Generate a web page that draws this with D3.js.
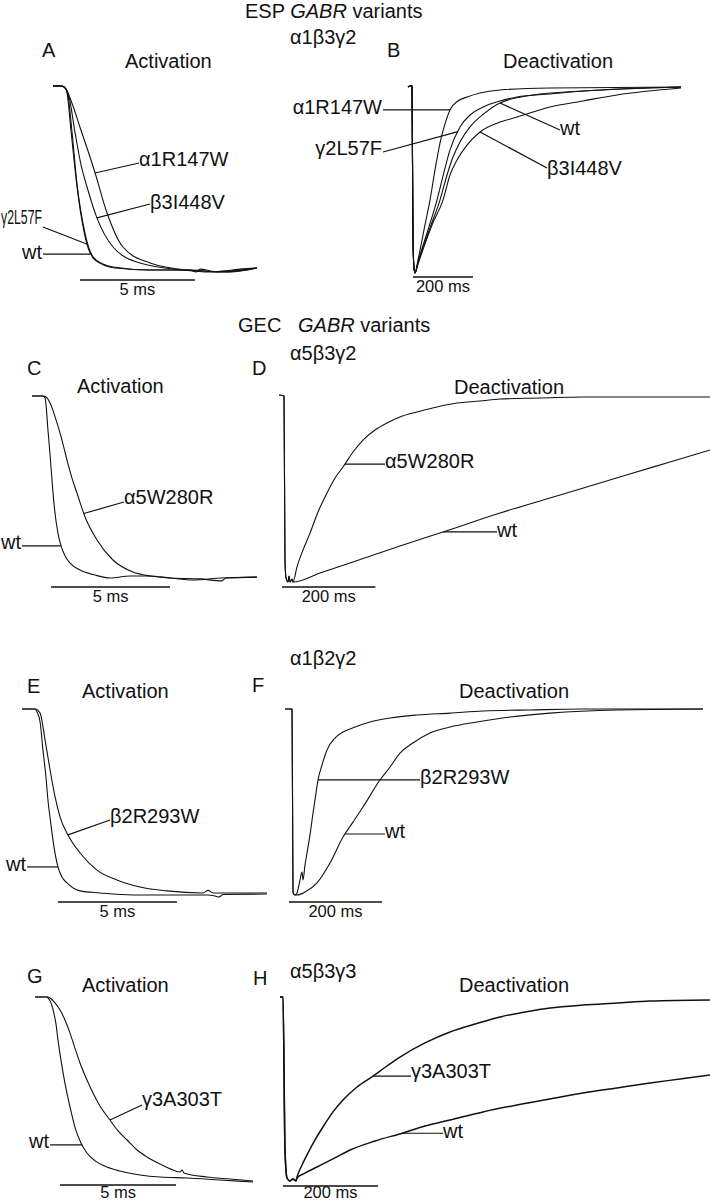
<!DOCTYPE html>
<html><head><meta charset="utf-8">
<script src="https://cdn.jsdelivr.net/npm/d3@7"></script>
<style>
body{margin:0;background:#fff}
svg{display:block}
text{font-family:"Liberation Sans",Arial,Helvetica,sans-serif;fill:#111}
</style>
</head><body>
<svg id="c" width="710" height="1203"></svg>
<script>
// ---------- DATA (time in ms, current normalised to peak: 0 = baseline, 1 = peak) ----------
// Panel A: alpha1beta3gamma2 activation
const A_names = ["wt", "γ2L57F", "β3I448V", "α1R147W"];
const A_wt = [[0,0],[0.39,0],[0.57,0.016],[0.65,0.049],[0.83,0.255],[1.04,0.527],[1.39,0.799],[1.74,0.929],[2.17,0.967],[2.61,0.984],[4.22,1.0],[5.96,1.0],[6.22,1.011],[6.39,0.995],[7.04,1.008],[7.61,1.003],[8.13,0.995],[8.87,0.989]];
const A_g2 = [[0,0],[0.35,0],[0.52,0.011],[0.61,0.038],[0.78,0.239],[1.04,0.543],[1.43,0.837],[1.83,0.946],[2.70,0.989],[4.22,1.0],[6.0,1.0],[7.3,1.011],[8.87,0.989]];
const A_b3 = [[0,0],[0.39,0],[0.57,0.016],[0.70,0.06],[0.96,0.255],[1.22,0.429],[1.48,0.549],[1.91,0.717],[2.61,0.875],[3.78,0.962],[5.65,1.0],[6.8,1.011],[8.87,0.989]];
const A_a1 = [[0,0],[0.30,0],[0.48,0.005],[0.61,0.027],[0.87,0.109],[1.17,0.223],[1.61,0.386],[1.83,0.473],[2.35,0.690],[3.04,0.875],[4.22,0.962],[5.83,1.0],[7.7,1.011],[8.87,0.989]];

// Panel B: alpha1beta3gamma2 deactivation
const B_names = ["α1R147W", "γ2L57F", "wt", "β3I448V"];
const B_pre = [[-13.3,0.005],[-6.7,0],[0,0],[3.3,0.824],[6.7,0.973],[10,1]];
const B_a1 = [[20,.930],[43.3,.743],[60,.610],[76.7,.449],[93.3,.305],[110,.203],[126.7,.128],[153.3,.080],[183.3,.059],[226.7,.037],[293.3,.021],[460,.011],[896.7,.005]];
const B_g2 = [[20,.941],[53.3,.770],[83.3,.610],[106.7,.460],[126.7,.342],[160,.219],[193.3,.155],[236.7,.112],[293.3,.080],[350,.059],[460,.043],[570,.027],[896.7,.005]];
const B_wt = [[20,.947],[60,.759],[93.3,.610],[116.7,.476],[136.7,.380],[160,.299],[193.3,.219],[243.3,.144],[293.3,.091],[403.3,.048],[570,.027],[896.7,.005]];
const B_b3 = [[20,.952],[66.7,.743],[103.3,.610],[126.7,.476],[150,.396],[183.3,.316],[226.7,.246],[293.3,.193],[350,.166],[460,.112],[570,.080],[683.3,.048],[896.7,.011]];

// Panel C: alpha5beta3gamma2 activation
const C_names = ["wt", "α5W280R"];
const C_wt = [[0,0],[0.46,0],[0.55,.011],[0.59,.049],[0.67,.187],[0.76,.324],[0.84,.462],[0.92,.588],[1.01,.687],[1.09,.753],[1.22,.824],[1.39,.879],[1.60,.918],[2.02,.956],[2.65,.984],[3.28,1.0],[4.12,.989],[4.96,.989],[5.80,1.0],[6.76,1.011],[7.90,1.0],[9.45,.995]];
const C_a5 = [[0,0],[0.46,0],[0.59,.005],[0.76,.038],[1.05,.148],[1.26,.242],[1.47,.352],[1.68,.451],[1.89,.533],[2.23,.665],[2.73,.791],[3.40,.901],[4.24,.967],[4.96,.989],[5.80,1.0],[7.06,1.005],[7.98,1.016],[8.15,1.0],[9.45,.995]];

// Panel D: alpha5beta3gamma2 deactivation
const D_names = ["α5W280R", "wt"];
const D_pre = [[-10.7,-.005],[0,0],[2.1,.882],[4.3,.978],[8.6,1],[10.7,.968],[12.8,1.0],[17.1,.984]];
const D_a5 = [[19.3,1],[27.8,.919],[40.7,.828],[55.7,.737],[72.8,.624],[92.1,.522],[109.2,.441],[126.3,.382],[147.8,.301],[169.2,.237],[194.9,.183],[220.6,.145],[248.4,.113],[284.8,.086],[327.6,.059],[370.4,.038],[419.7,.027],[462.5,.016],[548.2,.011],[640.3,.005],[783.7,.005],[912.2,.005]];
const D_wt = [[19.3,1],[77.1,.952],[141.3,.898],[248.4,.806],[340.5,.731],[462.5,.629],[569.6,.548],[676.7,.468],[747.3,.414],[826.6,.355],[912.2,.290]];

// Panel E: alpha1beta2gamma2 activation
const E_names = ["wt", "β2R293W"];
const E_wt = [[0,0],[0.55,0],[0.63,.016],[0.76,.070],[0.88,.220],[1.01,.371],[1.09,.489],[1.22,.624],[1.30,.704],[1.51,.849],[1.68,.903],[1.89,.935],[2.44,.978],[3.28,.989],[4.66,1.0],[7.77,1.0],[8.11,1.005],[8.28,1.011],[8.45,.997],[10.29,.995]];
const E_b2 = [[0,0],[0.55,0],[0.76,.022],[0.97,.167],[1.18,.328],[1.39,.473],[1.60,.581],[1.93,.677],[2.44,.774],[3.15,.866],[3.99,.919],[4.96,.957],[6.09,.978],[7.61,.989],[7.82,.975],[8.03,.989],[9.87,.989],[10.29,.989]];

// Panel F: alpha1beta2gamma2 deactivation
const F_names = ["β2R293W", "wt"];
const F_pre = [[-15.1,0],[0,0],[2.0,.919],[2.4,.989],[6.5,1]];
const F_b2 = [[10.8,.989],[17.2,.919],[21.5,.876],[23.7,.919],[27.96,.839],[32.3,.774],[38.7,.677],[45.2,.559],[51.6,.452],[55.9,.382],[64.5,.301],[75.3,.220],[92.5,.156],[109.7,.124],[135.5,.097],[167.7,.070],[210.8,.048],[268.8,.032],[339.8,.022],[410.8,.011],[511.8,.005],[625.8,0],[883.9,0]];
const F_wt = [[10.8,1],[27.96,.984],[53.8,.935],[81.7,.828],[109.7,.688],[131.2,.608],[152.7,.527],[189.2,.382],[210.8,.312],[232.3,.237],[260.2,.183],[296.8,.129],[339.8,.097],[397.8,.070],[468.8,.043],[554.8,.022],[698.9,.005],[883.9,0]];

// Panel G: alpha5beta3gamma3 activation
const G_names = ["wt", "γ3A303T"];
const G_wt = [[0,0],[0.52,0],[0.56,.005],[0.69,.032],[0.78,.070],[0.91,.151],[0.99,.232],[1.12,.341],[1.29,.465],[1.51,.595],[1.72,.703],[1.98,.789],[2.24,.843],[2.59,.886],[3.10,.919],[3.66,.941],[4.53,.962],[5.39,.973],[6.55,.978],[7.97,.989],[9.40,1.0]];
const G_g3 = [[0,0],[0.52,0],[0.65,.005],[0.86,.032],[1.08,.070],[1.29,.124],[1.51,.195],[1.72,.276],[1.94,.357],[2.24,.449],[2.50,.519],[2.80,.589],[3.23,.665],[3.58,.724],[3.97,.773],[4.40,.827],[4.83,.865],[5.39,.903],[5.95,.935],[6.25,.946],[6.34,.935],[6.42,.951],[7.41,.973],[8.41,.984],[9.40,.995]];

// Panel H: alpha5beta3gamma3 deactivation
const H_names = ["γ3A303T", "wt"];
const H_pre = [[-6.3,0],[0,0],[4.2,.836],[8.4,.989],[14.7,1.005],[21.1,.995],[27.4,1.005]];
const H_g3 = [[29.5,.984],[40,.918],[50.5,.863],[67.4,.781],[84.2,.710],[105.3,.628],[126.3,.563],[155.8,.492],[189.5,.432],[218.9,.377],[246.3,.328],[298.9,.251],[351.6,.191],[404.2,.148],[456.8,.109],[509.5,.082],[562.1,.060],[631.6,.044],[703.2,.033],[772.6,.022],[898.9,.016]];
const H_wt = [[29.5,.989],[46.3,.962],[71.6,.929],[105.3,.885],[141.1,.836],[193.7,.787],[252.6,.743],[298.9,.705],[351.6,.672],[421.1,.628],[492.6,.590],[562.1,.557],[631.6,.525],[703.2,.497],[772.6,.470],[835.8,.448],[898.9,.426]];

// scale bars (ms)
const scaleBarMs = [5, 200, 5, 200, 5, 200, 5, 200];
const panelLetters = ["A","B","C","D","E","F","G","H"];
const panelTitles = ["Activation","Deactivation","Activation","Deactivation","Activation","Deactivation","Activation","Deactivation"];
const receptorNames = ["α1β3γ2", "α5β3γ2", "α1β2γ2", "α5β3γ3"];

// ---------- LAYOUT ----------
const panels = [
 {traces:[A_wt,A_g2,A_b3,A_a1], names:A_names, xd:[0,10], xr:[53,283], yr:[86,270], bar:{t0:1.17,y:280,dy:15},
  letter:[42,57], title:[125,68],
  labels:[{s:3,t:1.83,ex:139,ey:163,a:"start",dy:3},{s:2,t:1.91,ex:150,ey:204,a:"start",dy:5},
          {s:1,t:1.52,ex:43,ey:227,a:"end",dy:-3,fit:41},{s:0,t:1.70,ex:43,ey:null,a:"end",dy:5}]},
 {traces:[B_pre.concat(B_a1),B_pre.concat(B_g2),B_pre.concat(B_wt),B_pre.concat(B_b3)], names:B_names, xd:[0,1000], xr:[412,712], yr:[86,273], bar:{t0:3.3,y:277,dy:15},
  letter:[387,57], title:[503,68],
  labels:[{s:0,t:126.7,ex:383,ey:null,a:"end",dy:4},{s:1,t:153.3,ex:383,ey:152,a:"end",dy:3},
          {s:2,t:293.3,ex:560,ey:130,a:"start",dy:5},{s:3,t:226.7,ex:547,ey:168,a:"start",dy:7}]},
 {traces:[C_wt,C_a5], names:C_names, xd:[0,10], xr:[32,270], yr:[396,578], bar:{t0:0.8,y:587,dy:15},
  letter:[27,375], title:[77,393],
  labels:[{s:1,t:2.18,ex:124,ey:502,a:"start",dy:2},{s:0,t:1.22,ex:22,ey:null,a:"end",dy:3}]},
 {traces:[D_pre.concat(D_a5),D_pre.concat(D_wt)], names:D_names, xd:[0,1000], xr:[284,751], yr:[396,582], bar:{t0:-4.3,y:587,dy:15},
  letter:[252,375], title:[454,394],
  labels:[{s:0,t:130.6,ex:385,ey:null,a:"start",dy:4},{s:1,t:340.5,ex:497,ey:null,a:"start",dy:5}]},
 {traces:[E_wt,E_b2], names:E_names, xd:[0,10], xr:[22,260], yr:[709,895], bar:{t0:1.51,y:902,dy:15},
  letter:[27,693], title:[82,698],
  labels:[{s:1,t:1.93,ex:110,ey:820,a:"start",dy:3},{s:0,t:1.51,ex:27,ey:null,a:"end",dy:4}]},
 {traces:[F_pre.concat(F_b2),F_pre.concat(F_wt)], names:F_names, xd:[0,1000], xr:[292,757], yr:[709,895], bar:{t0:-6.5,y:902,dy:15},
  letter:[252,692], title:[459,698],
  labels:[{s:0,t:56,ex:420,ey:null,a:"start",dy:4},{s:1,t:114,ex:385,ey:null,a:"start",dy:4}]},
 {traces:[G_wt,G_g3], names:G_names, xd:[0,10], xr:[35,267], yr:[997,1182], bar:{t0:1.08,y:1185,dy:13},
  letter:[27,983], title:[82,992],
  labels:[{s:1,t:3.23,ex:142,ey:1105,a:"start",dy:1},{s:0,t:2.03,ex:50,ey:null,a:"end",dy:3}]},
 {traces:[H_pre.concat(H_g3),H_pre.concat(H_wt)], names:H_names, xd:[0,1000], xr:[283,758], yr:[997,1180], bar:{t0:0,y:1186,dy:12},
  letter:[253,985], title:[459,992], sw:1.5,
  labels:[{s:0,t:189.5,ex:411,ey:null,a:"start",dy:2},{s:1,t:250.5,ex:443,ey:null,a:"start",dy:5}]}
];
const receptorPos = [[290,44],[290,360],[290,665],[290,978]];

const INK = "#111";
const svg = d3.select("#c");

function interp(data, t) {
  for (let i = 1; i < data.length; i++) {
    if (data[i][0] >= t) {
      const [t0,v0] = data[i-1], [t1,v1] = data[i];
      return v0 + (v1 - v0) * (t - t0) / (t1 - t0);
    }
  }
  return data[data.length-1][1];
}

// headers
const h1 = svg.append("text").attr("x",245).attr("y",18).style("font-size","20px");
h1.append("tspan").text("ESP ");
h1.append("tspan").style("font-style","italic").text("GABR");
h1.append("tspan").text(" variants");
const h2 = svg.append("text").attr("x",238).attr("y",332).style("font-size","20px");
h2.append("tspan").text("GEC");
h2.append("tspan").attr("x",298).style("font-style","italic").text("GABR");
h2.append("tspan").text(" variants");
receptorNames.forEach((r,i)=>{
  svg.append("text").attr("x",receptorPos[i][0]).attr("y",receptorPos[i][1]).style("font-size","20px").text(r);
});

panels.forEach((p, pi) => {
  const x = d3.scaleLinear().domain(p.xd).range(p.xr);
  const y = d3.scaleLinear().domain([0,1]).range(p.yr);
  const line = d3.line().x(d=>x(d[0])).y(d=>y(d[1])).curve(d3.curveMonotoneX);
  const g = svg.append("g");
  g.append("text").attr("x",p.letter[0]).attr("y",p.letter[1]).style("font-size","20px").text(panelLetters[pi]);
  g.append("text").attr("x",p.title[0]).attr("y",p.title[1]).style("font-size","20px").text(panelTitles[pi]);
  p.traces.forEach(tr => {
    g.append("path").attr("d", line(tr)).attr("fill","none").attr("stroke",INK)
     .attr("stroke-width", p.sw || 1.1).attr("stroke-linejoin","round");
  });
  // scale bar
  const len = scaleBarMs[pi];
  const bx1 = x(p.bar.t0), bx2 = x(p.bar.t0 + len);
  g.append("line").attr("x1",bx1).attr("x2",bx2).attr("y1",p.bar.y).attr("y2",p.bar.y)
   .attr("stroke",INK).attr("stroke-width",1.6);
  g.append("text").attr("x",(bx1+bx2)/2).attr("y",p.bar.y+p.bar.dy).attr("text-anchor","middle")
   .style("font-size","16.5px").text(len + " ms");
  // labels with leader lines
  p.labels.forEach(l => {
    const cx = x(l.t), cy = y(interp(p.traces[l.s], l.t));
    const ey = l.ey == null ? cy : l.ey;
    g.append("line").attr("x1",cx).attr("y1",cy).attr("x2",l.ex).attr("y2",ey)
     .attr("stroke",INK).attr("stroke-width",1.2);
    const t = g.append("text").attr("x", l.a === "end" ? l.ex - 1 : l.ex).attr("y", ey + l.dy)
     .attr("text-anchor", l.a).style("font-size","20px").text(p.names[l.s]);
    if (l.fit) t.attr("textLength", l.fit).attr("lengthAdjust","spacingAndGlyphs");
  });
});
</script>
</body></html>
